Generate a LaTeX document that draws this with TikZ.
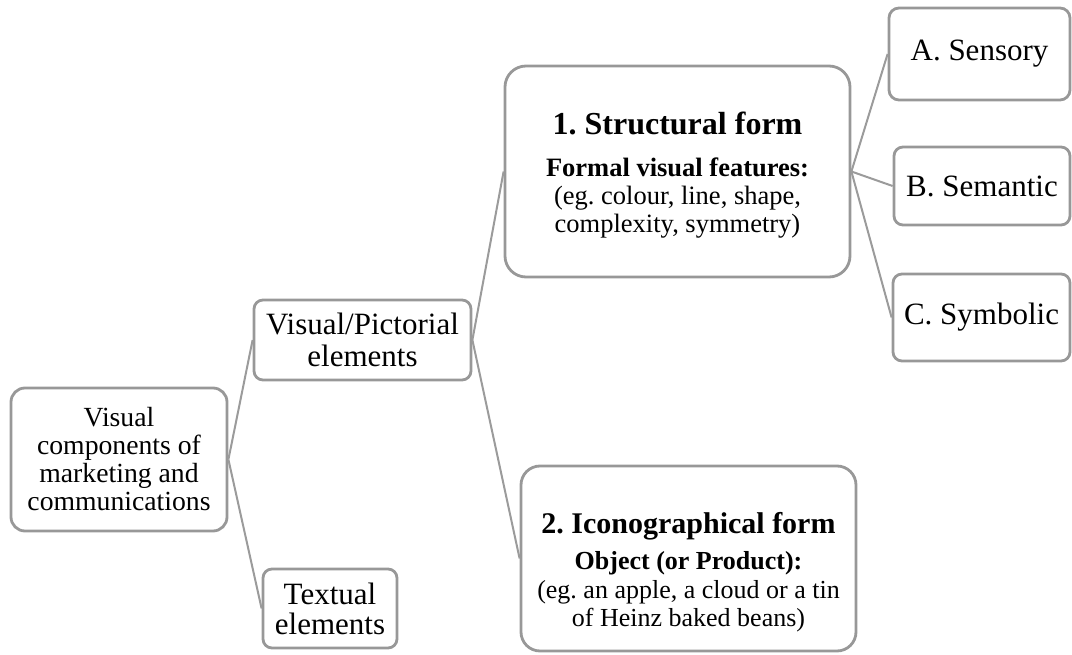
\documentclass[tikz,border=0pt]{standalone}
\usepackage{fontspec}
\setmainfont{Liberation Serif}
\frenchspacing
\definecolor{boxgray}{RGB}{152,152,152}
\definecolor{linkgray}{RGB}{155,155,155}
\tikzset{
  box/.style={draw=boxgray, line width=2.8pt, fill=white, align=center,
              inner sep=0pt, text=black},
  link/.style={draw=linkgray, line width=2pt},
  big/.style={font=\fontsize{31}{32}\selectfont},
  sub/.style={font=\fontsize{26.5}{28}\selectfont}
}
\begin{document}
\begin{tikzpicture}[x=1pt, y=-1pt]
  \useasboundingbox (0,0) rectangle (1072,655);

  % root
  \node[box, rounded corners=14pt, minimum width=216pt, minimum height=143pt,
        font=\fontsize{27.7}{28}\selectfont] (vc) at (119,459.5)
        {Visual\\components of\\marketing and\\communications};

  % second level
  \node[box, big, rounded corners=9pt, minimum width=217pt, minimum height=80pt]
        (vp) at (362.5,340) {Visual/Pictorial\\elements};
  \node[box, rounded corners=9pt, minimum width=134pt, minimum height=79pt,
        font=\fontsize{31}{30}\selectfont]
        (te) at (330,608.5) {Textual\\elements};

  % third level
  \node[box, sub, rounded corners=21pt, minimum width=345pt, minimum height=211pt]
        (sf) at (677.5,171.5)
        {\rule{0pt}{29pt}{\fontsize{32}{32}\selectfont\bfseries 1. Structural form}\\[14pt]
         \textbf{Formal visual features:}\\
         (eg. colour, line, shape,\\
         complexity, symmetry)};
  \node[box, font=\fontsize{26}{28.5}\selectfont, rounded corners=19pt,
        minimum width=335pt, minimum height=185pt]
        (ic) at (688.5,558.5)
        {\rule{0pt}{49pt}{\fontsize{30}{30}\selectfont\bfseries 2. Iconographical form}\\[7.5pt]
         \textbf{Object (or Product):}\\
         (eg. an apple, a cloud or a tin\\
         of Heinz baked beans)};

  % fourth level
  \node[box, big, rounded corners=10pt, minimum width=181pt, minimum height=92pt]
        (sa) at (979.5,54) {A. Sensory};
  \node[box, big, rounded corners=9pt, minimum width=176pt, minimum height=78pt]
        (sb) at (982,186) {B. Semantic};
  \node[box, big, rounded corners=9pt, minimum width=177pt, minimum height=87pt]
        (sc) at (981.5,317.5) {C. Symbolic};

  % connectors from each parent's right side to its children's left sides
  \draw[link] (vc.east) -- (vp.west);
  \draw[link] (vc.east) -- (te.west);
  \draw[link] (vp.east) -- (sf.west);
  \draw[link] (vp.east) -- (ic.west);
  \draw[link] (sf.east) -- (sa.west);
  \draw[link] (sf.east) -- (sb.west);
  \draw[link] (sf.east) -- (sc.west);
\end{tikzpicture}
\end{document}
